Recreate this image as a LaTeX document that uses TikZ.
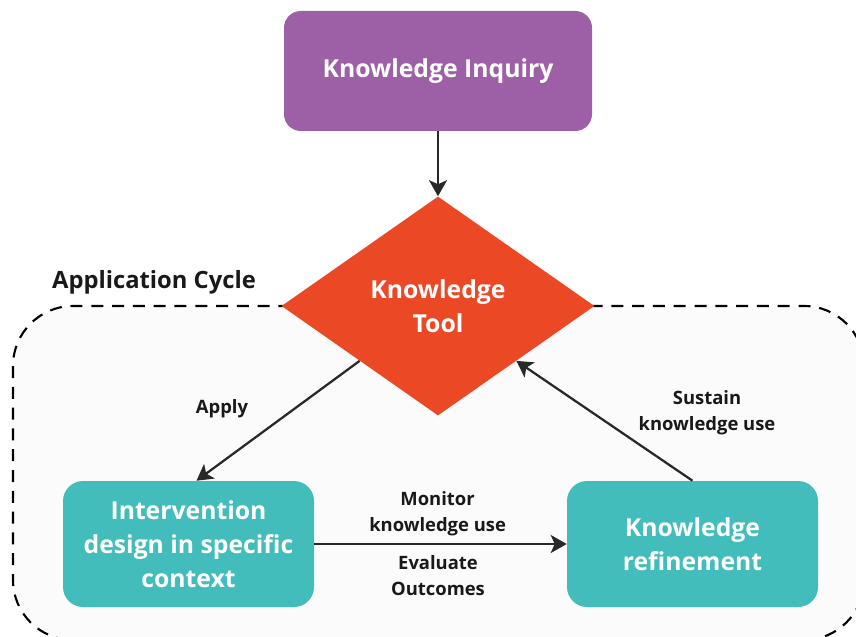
\documentclass[tikz,border=0pt]{standalone}
\usepackage{fontspec}
\setmainfont{Open Sans}
\usetikzlibrary{arrows.meta,shapes.geometric,positioning}
\definecolor{inqpurple}{RGB}{157,96,166}
\definecolor{toolred}{RGB}{235,73,37}
\definecolor{stepteal}{RGB}{66,189,187}
\definecolor{linegray}{RGB}{40,40,40}
\begin{document}
\begin{tikzpicture}[
  box/.style={rectangle,fill=stepteal,rounded corners=0.5cm,minimum width=6.275cm,minimum height=3.15cm,
    text=white,align=center,font=\fontsize{17.6}{24.2}\selectfont\bfseries},
  lbl/.style={align=center,text=black!90,font=\fontsize{13.1}{18.5}\selectfont\bfseries},
  arr/.style={-{Stealth[length=0.4cm,width=0.45cm,inset=0.1cm]},line width=1.6pt,draw=linegray}]
  \useasboundingbox (0,0) rectangle (21.4,15.9);
  \begin{scope}
  \clip (0,0) rectangle (21.4,15.9);
  \draw[fill=black!1.5,dash pattern=on 0.3cm off 0.22cm,line width=1.5pt,rounded corners=1.5cm] (0.325,8.25) rectangle (21.6,-0.1); % cycle area
  \end{scope}
  \node[font=\fontsize{16.9}{20}\selectfont\bfseries,text=black!90] (cyc) at (3.85,8.85) {Application Cycle};

  \node[box,fill=inqpurple,rounded corners=0.42cm,minimum width=7.7cm,minimum height=3cm] (inq) at (10.95,14.125) {Knowledge Inquiry};
  \node[diamond,fill=toolred,aspect=1.43,minimum width=7.825cm,minimum height=5.475cm,inner sep=0pt,
    text=white,align=center,font=\fontsize{17.6}{24.2}\selectfont\bfseries] (tool) at (10.95,8.25) {Knowledge\\Tool};
  \node[box] (interv) at (4.7125,2.3) {Intervention\\design in specific\\context};
  \node[box] (refine) at (17.3125,2.3) {Knowledge\\refinement};

  \draw[arr] (inq) -- (tool.north);
  \draw[arr] (tool.south west) -- ([xshift=0.2cm]interv.north); % apply
  \draw[arr] (refine.north) -- (tool.south east); % sustain
  \draw[arr] (interv.east) -- (refine.west);

  \node[lbl] (apply) at (5.55,5.675) {Apply};
  \node[lbl] (sustain) at (17.675,5.575) {Sustain\\knowledge use};
  \node[lbl] (monitor) at (10.94,3.05) {Monitor\\knowledge use};
  \node[lbl] (evaluate) at (10.95,1.51) {Evaluate\\Outcomes};
\end{tikzpicture}
\end{document}
